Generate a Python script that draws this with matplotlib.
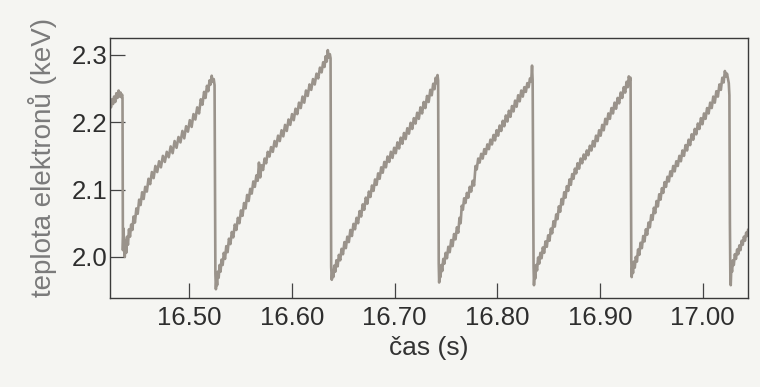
import numpy as np
import matplotlib
matplotlib.use('Agg')
import matplotlib.pyplot as plt

# teplota elektronu (keV) vs cas (s), cteno z obrazku - kazdy usek konci padem (sawtooth)
cyc0 = [(16.4214, 2.224), (16.4222, 2.216), (16.4231, 2.229), (16.4240, 2.222), (16.4250, 2.234),
        (16.4260, 2.227), (16.4270, 2.238), (16.4281, 2.230), (16.4292, 2.243), (16.4303, 2.236),
        (16.4314, 2.247), (16.4324, 2.238), (16.4333, 2.244), (16.4341, 2.237), (16.4348, 2.241),
        (16.4352, 2.236)]

cyc1 = [(16.4356, 2.010), (16.4362, 2.042), (16.4368, 2.012), (16.4374, 2.000), (16.4381, 2.025),
        (16.4388, 2.006), (16.4396, 2.030), (16.4405, 2.018), (16.4415, 2.041), (16.4425, 2.030),
        (16.4436, 2.048), (16.4448, 2.040), (16.4460, 2.060), (16.4473, 2.051), (16.4487, 2.072),
        (16.4500, 2.064), (16.4514, 2.085), (16.4528, 2.077), (16.4543, 2.096), (16.4558, 2.086),
        (16.4573, 2.104), (16.4589, 2.097), (16.4605, 2.116), (16.4621, 2.108), (16.4638, 2.126),
        (16.4655, 2.117), (16.4672, 2.135), (16.4690, 2.126), (16.4708, 2.142), (16.4726, 2.133),
        (16.4745, 2.150), (16.4764, 2.141), (16.4783, 2.156), (16.4802, 2.148), (16.4821, 2.164),
        (16.4840, 2.154), (16.4859, 2.172), (16.4878, 2.162), (16.4897, 2.178), (16.4916, 2.170),
        (16.4935, 2.187), (16.4953, 2.176), (16.4971, 2.194), (16.4989, 2.186), (16.5007, 2.203),
        (16.5025, 2.193), (16.5043, 2.212), (16.5061, 2.204), (16.5079, 2.222), (16.5097, 2.213),
        (16.5114, 2.234), (16.5130, 2.226), (16.5146, 2.245), (16.5160, 2.236), (16.5174, 2.254),
        (16.5187, 2.246), (16.5199, 2.262), (16.5210, 2.256), (16.5220, 2.269), (16.5230, 2.260),
        (16.5240, 2.264), (16.5248, 2.255)]

cyc2 = [(16.5256, 1.975), (16.5261, 1.952), (16.5267, 1.968), (16.5273, 1.958), (16.5280, 1.978),
        (16.5288, 1.969), (16.5297, 1.988), (16.5306, 1.978), (16.5316, 1.996), (16.5327, 1.988),
        (16.5338, 2.006), (16.5350, 1.997), (16.5362, 2.016), (16.5375, 2.007), (16.5388, 2.027),
        (16.5402, 2.019), (16.5416, 2.037), (16.5430, 2.029), (16.5445, 2.048), (16.5460, 2.040),
        (16.5475, 2.058), (16.5490, 2.050), (16.5505, 2.069), (16.5520, 2.061), (16.5535, 2.080),
        (16.5550, 2.072), (16.5565, 2.092), (16.5580, 2.083), (16.5595, 2.101), (16.5610, 2.094),
        (16.5625, 2.112), (16.5640, 2.104), (16.5655, 2.121), (16.5668, 2.113), (16.5680, 2.140),
        (16.5692, 2.118), (16.5705, 2.136), (16.5720, 2.129), (16.5735, 2.146), (16.5750, 2.139),
        (16.5766, 2.156), (16.5782, 2.149), (16.5798, 2.163), (16.5815, 2.156), (16.5832, 2.172),
        (16.5849, 2.164), (16.5866, 2.180), (16.5883, 2.172), (16.5900, 2.188), (16.5917, 2.179),
        (16.5934, 2.196), (16.5951, 2.187), (16.5968, 2.204), (16.5985, 2.196), (16.6002, 2.212),
        (16.6019, 2.203), (16.6036, 2.220), (16.6053, 2.212), (16.6070, 2.229), (16.6087, 2.221),
        (16.6104, 2.238), (16.6121, 2.229), (16.6138, 2.247), (16.6155, 2.239), (16.6172, 2.256),
        (16.6189, 2.248), (16.6206, 2.264), (16.6223, 2.256), (16.6240, 2.272), (16.6257, 2.265),
        (16.6274, 2.281), (16.6290, 2.274), (16.6305, 2.289), (16.6318, 2.282), (16.6330, 2.298),
        (16.6340, 2.290), (16.6350, 2.307), (16.6360, 2.296), (16.6370, 2.301), (16.6377, 2.295)]

cyc3 = [(16.6383, 1.985), (16.6389, 1.966), (16.6396, 1.980), (16.6404, 1.970), (16.6413, 1.987),
        (16.6423, 1.978), (16.6434, 1.995), (16.6446, 1.986), (16.6458, 2.003), (16.6471, 1.995),
        (16.6484, 2.012), (16.6498, 2.004), (16.6512, 2.022), (16.6526, 2.013), (16.6540, 2.030),
        (16.6555, 2.022), (16.6570, 2.040), (16.6585, 2.031), (16.6600, 2.049), (16.6615, 2.041),
        (16.6630, 2.058), (16.6645, 2.050), (16.6660, 2.068), (16.6675, 2.060), (16.6690, 2.078),
        (16.6705, 2.070), (16.6720, 2.088), (16.6735, 2.079), (16.6750, 2.097), (16.6765, 2.089),
        (16.6780, 2.106), (16.6795, 2.098), (16.6810, 2.115), (16.6825, 2.107), (16.6840, 2.124),
        (16.6855, 2.116), (16.6870, 2.133), (16.6885, 2.125), (16.6900, 2.141), (16.6916, 2.133),
        (16.6932, 2.149), (16.6948, 2.141), (16.6964, 2.156), (16.6980, 2.147), (16.6996, 2.162),
        (16.7012, 2.154), (16.7028, 2.170), (16.7044, 2.161), (16.7060, 2.177), (16.7076, 2.168),
        (16.7092, 2.184), (16.7108, 2.175), (16.7124, 2.191), (16.7140, 2.183), (16.7156, 2.199),
        (16.7172, 2.190), (16.7188, 2.206), (16.7204, 2.198), (16.7220, 2.214), (16.7236, 2.205),
        (16.7252, 2.222), (16.7268, 2.213), (16.7284, 2.230), (16.7300, 2.221), (16.7316, 2.239),
        (16.7332, 2.230), (16.7348, 2.248), (16.7362, 2.240), (16.7376, 2.257), (16.7389, 2.249),
        (16.7400, 2.266), (16.7410, 2.258), (16.7418, 2.270), (16.7424, 2.262)]

cyc4 = [(16.7430, 1.990), (16.7434, 1.962), (16.7440, 1.978), (16.7447, 1.970), (16.7455, 1.988),
        (16.7464, 1.979), (16.7474, 1.997), (16.7485, 1.990), (16.7497, 2.006), (16.7510, 1.998),
        (16.7523, 2.015), (16.7537, 2.007), (16.7551, 2.025), (16.7565, 2.016), (16.7579, 2.034),
        (16.7593, 2.026), (16.7607, 2.044), (16.7620, 2.036), (16.7632, 2.058), (16.7643, 2.050),
        (16.7654, 2.076), (16.7665, 2.070), (16.7677, 2.087), (16.7690, 2.080), (16.7704, 2.095),
        (16.7718, 2.088), (16.7732, 2.104), (16.7746, 2.097), (16.7760, 2.113), (16.7774, 2.106),
        (16.7788, 2.135), (16.7800, 2.130), (16.7814, 2.146), (16.7828, 2.140), (16.7843, 2.153),
        (16.7858, 2.146), (16.7873, 2.160), (16.7888, 2.153), (16.7903, 2.167), (16.7918, 2.160),
        (16.7933, 2.174), (16.7948, 2.167), (16.7963, 2.181), (16.7978, 2.173), (16.7993, 2.188),
        (16.8008, 2.180), (16.8023, 2.195), (16.8038, 2.187), (16.8053, 2.202), (16.8068, 2.194),
        (16.8083, 2.210), (16.8098, 2.201), (16.8113, 2.217), (16.8128, 2.208), (16.8143, 2.224),
        (16.8158, 2.216), (16.8173, 2.232), (16.8188, 2.223), (16.8203, 2.240), (16.8218, 2.231),
        (16.8233, 2.247), (16.8248, 2.238), (16.8263, 2.252), (16.8278, 2.245), (16.8292, 2.258),
        (16.8305, 2.252), (16.8318, 2.265), (16.8330, 2.260), (16.8338, 2.284), (16.8344, 2.262)]

cyc5 = [(16.8353, 1.985), (16.8357, 1.958), (16.8363, 1.976), (16.8370, 1.968), (16.8378, 1.988),
        (16.8387, 1.980), (16.8397, 1.999), (16.8408, 1.990), (16.8419, 2.006), (16.8431, 1.998),
        (16.8443, 2.014), (16.8456, 2.006), (16.8469, 2.023), (16.8482, 2.015), (16.8495, 2.032),
        (16.8508, 2.024), (16.8521, 2.042), (16.8534, 2.035), (16.8547, 2.053), (16.8560, 2.045),
        (16.8573, 2.063), (16.8586, 2.056), (16.8599, 2.075), (16.8612, 2.067), (16.8625, 2.086),
        (16.8638, 2.078), (16.8651, 2.096), (16.8664, 2.088), (16.8677, 2.105), (16.8690, 2.098),
        (16.8703, 2.115), (16.8716, 2.107), (16.8729, 2.123), (16.8742, 2.116), (16.8755, 2.131),
        (16.8768, 2.124), (16.8781, 2.139), (16.8796, 2.131), (16.8811, 2.146), (16.8826, 2.139),
        (16.8841, 2.152), (16.8856, 2.145), (16.8871, 2.158), (16.8886, 2.151), (16.8901, 2.165),
        (16.8916, 2.158), (16.8931, 2.172), (16.8946, 2.164), (16.8961, 2.180), (16.8976, 2.172),
        (16.8991, 2.188), (16.9006, 2.180), (16.9021, 2.196), (16.9036, 2.188), (16.9051, 2.205),
        (16.9066, 2.197), (16.9081, 2.213), (16.9096, 2.205), (16.9111, 2.221), (16.9126, 2.213),
        (16.9141, 2.229), (16.9156, 2.220), (16.9171, 2.236), (16.9186, 2.228), (16.9201, 2.244),
        (16.9216, 2.236), (16.9231, 2.252), (16.9245, 2.244), (16.9258, 2.260), (16.9270, 2.252),
        (16.9280, 2.268), (16.9290, 2.262), (16.9297, 2.266)]

cyc6 = [(16.9304, 1.995), (16.9308, 1.970), (16.9314, 1.986), (16.9321, 1.976), (16.9329, 1.993),
        (16.9338, 1.984), (16.9348, 2.000), (16.9359, 1.993), (16.9370, 2.011), (16.9382, 2.003),
        (16.9394, 2.021), (16.9407, 2.013), (16.9420, 2.031), (16.9433, 2.023), (16.9446, 2.041),
        (16.9459, 2.033), (16.9472, 2.051), (16.9485, 2.044), (16.9498, 2.062), (16.9511, 2.055),
        (16.9524, 2.073), (16.9537, 2.065), (16.9550, 2.083), (16.9563, 2.075), (16.9576, 2.093),
        (16.9589, 2.085), (16.9602, 2.102), (16.9615, 2.095), (16.9628, 2.111), (16.9642, 2.104),
        (16.9656, 2.119), (16.9670, 2.112), (16.9684, 2.127), (16.9698, 2.120), (16.9712, 2.135),
        (16.9727, 2.127), (16.9742, 2.142), (16.9757, 2.135), (16.9772, 2.150), (16.9787, 2.142),
        (16.9802, 2.158), (16.9817, 2.150), (16.9832, 2.166), (16.9847, 2.158), (16.9862, 2.174),
        (16.9877, 2.166), (16.9892, 2.182), (16.9907, 2.174), (16.9922, 2.190), (16.9937, 2.182),
        (16.9952, 2.198), (16.9967, 2.190), (16.9982, 2.206), (16.9997, 2.197), (17.0012, 2.213),
        (17.0027, 2.205), (17.0042, 2.221), (17.0057, 2.213), (17.0072, 2.229), (17.0087, 2.221),
        (17.0102, 2.238), (17.0117, 2.229), (17.0132, 2.246), (17.0147, 2.238), (17.0162, 2.256),
        (17.0176, 2.248), (17.0190, 2.266), (17.0203, 2.259), (17.0215, 2.276), (17.0226, 2.268),
        (17.0236, 2.272), (17.0245, 2.265), (17.0253, 2.258), (17.0259, 2.240)]

cyc7 = [(17.0264, 2.050), (17.0268, 1.975), (17.0272, 1.958), (17.0278, 1.985), (17.0285, 1.978),
        (17.0293, 1.995), (17.0302, 1.988), (17.0312, 2.004), (17.0323, 1.997), (17.0334, 2.011),
        (17.0345, 2.004), (17.0356, 2.017), (17.0367, 2.010), (17.0378, 2.024), (17.0389, 2.018),
        (17.0400, 2.030), (17.0411, 2.024), (17.0422, 2.036), (17.0432, 2.031), (17.0441, 2.040)]

xticks = [16.50, 16.60, 16.70, 16.80, 16.90, 17.00]
yticks = [2.0, 2.1, 2.2, 2.3]

data = np.array(cyc0 + cyc1 + cyc2 + cyc3 + cyc4 + cyc5 + cyc6 + cyc7)
cas = data[:, 0]
teplota = data[:, 1]

plt.rcParams['font.family'] = ['Liberation Sans', 'DejaVu Sans']
bg = '#f5f5f2'

fig = plt.figure(figsize=(7.6, 3.87), dpi=100, facecolor=bg)
ax = fig.add_axes([0.1447, 0.2300, 0.8395, 0.6718], facecolor=bg)

ax.plot(cas, teplota, color='#9a938b', lw=1.9, solid_joinstyle='round')

ax.set_xlim(16.423, 17.044)
ax.set_ylim(1.939, 2.325)
ax.set_xticks(xticks)
ax.set_xticklabels(['%.2f' % v for v in xticks])
ax.set_yticks(yticks)
ax.set_yticklabels(['%.1f' % v for v in yticks])

for s in ax.spines.values():
    s.set_color('#3a3a3a')
    s.set_linewidth(1.0)

ax.tick_params(direction='in', length=11, width=0.9, color='#444444',
               labelcolor='#2e2e2e', labelsize=18.5)
ax.tick_params(axis='x', pad=6)
ax.tick_params(axis='y', pad=2)

ax.set_xlabel('čas (s)', fontsize=19, color='#333333', va='top')
ax.xaxis.set_label_coords(0.5, -0.145)
ax.set_ylabel('teplota elektronů (keV)', fontsize=20, color='#7b7b7b')
ax.yaxis.set_label_coords(-0.083, 0.54)

fig.savefig('out.png', dpi=100, facecolor=bg)
